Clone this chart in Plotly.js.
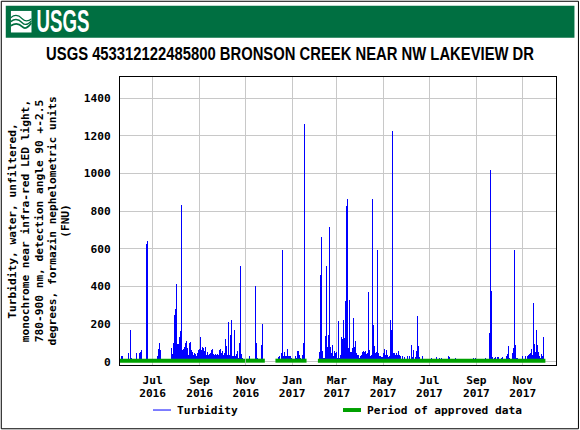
<!DOCTYPE html>
<html><head><meta charset="utf-8">
<script src="https://cdn.plot.ly/plotly-3.0.1.min.js"></script>
<style>html,body{margin:0;padding:0;background:#fff}#c{width:580px;height:430px}
.bars .point path{shape-rendering:crispEdges}</style>
</head><body><div id="c"></div>
<script>
const sampleStart = '2016-05-20T14:00:00Z';
const sampleStepDays = 1.3158;
const turbidity = [
30,30,15,0,0,0,0,45,0,170,
20,0,0,0,0,47,15,0,44,49,
63,0,0,0,0,624,640,0,15,0,
0,0,0,0,0,0,30,67,100,63,
0,0,0,0,0,0,0,0,0,0,
74,42,100,249,280,413,95,95,132,164,
835,63,67,79,100,111,74,37,100,106,
63,53,37,47,42,32,47,63,69,132,
63,79,74,58,79,37,53,37,42,47,
111,63,69,42,37,42,37,42,37,63,
69,47,58,37,47,122,85,37,212,37,
143,222,32,32,169,32,42,58,21,100,
510,42,21,0,0,0,0,0,0,32,
0,0,0,0,0,400,100,20,0,0,
0,90,201,0,0,0,0,0,0,0,
0,0,0,0,0,0,0,0,26,32,
0,47,592,30,50,30,30,69,30,30,
30,20,0,0,0,30,20,58,58,37,
20,0,37,100,1265,0,0,0,0,0,
0,0,0,0,0,0,0,0,0,49,
460,665,58,20,20,138,508,79,143,714,
79,47,90,32,58,47,49,20,217,20,
37,132,122,222,127,322,825,862,74,328,
53,53,74,233,79,111,47,37,37,20,
32,37,53,56,53,56,42,47,370,63,
30,37,862,196,85,47,53,592,47,32,
30,26,26,47,69,37,63,37,26,30,
222,169,1227,47,47,37,47,37,58,37,
30,0,30,0,26,0,0,32,0,32,
0,90,26,63,0,26,56,243,85,26,
0,0,32,0,0,0,0,0,0,0,
0,20,0,0,0,0,26,0,0,20,
0,20,0,0,0,0,0,0,32,26,
0,0,0,0,0,20,0,15,0,0,
0,0,0,0,0,0,0,0,0,0,
0,0,0,20,0,20,0,0,0,0,
0,0,0,0,0,20,0,0,0,153,
1016,376,26,0,20,26,0,26,26,0,
0,20,26,0,0,0,30,42,85,20,
0,0,47,74,592,90,20,20,0,0,
0,0,30,0,0,30,0,30,37,42,
47,69,37,312,95,53,169,90,53,30,
20,42,30,132,0];
const approvedStart = ['2016-05-17','2016-11-01','2016-12-10','2017-02-04'];
const approvedEnd   = ['2016-10-31','2016-11-26','2017-01-20','2017-12-01'];
const approvedLevel = 5;
const tickDates = ['2016-07-01','2016-09-01','2016-11-01','2017-01-01','2017-03-01','2017-05-01','2017-07-01','2017-09-01','2017-11-01'];
const tickLabels = ['Jul<br>2016','Sep<br>2016','Nov<br>2016','Jan<br>2017','Mar<br>2017','May<br>2017','Jul<br>2017','Sep<br>2017','Nov<br>2017'];
const yTicks = [0,200,400,600,800,1000,1200,1400];
const chartTitle = 'USGS 453312122485800 BRONSON CREEK NEAR NW LAKEVIEW DR';
const yTitle = 'Turbidity, water, unfiltered,<br>monochrome near infra-red LED light,<br>780-900 nm, detection angle 90 +-2.5<br>degrees, formazin nephelometric units<br>(FNU)';

const DAY = 86400000;
const t0 = Date.parse(sampleStart);
const xs = turbidity.map((_, i) => new Date(t0 + i * sampleStepDays * DAY).toISOString());
const gx = [], gy = [];
approvedStart.forEach((s, i) => { gx.push(s, approvedEnd[i], null); gy.push(approvedLevel, approvedLevel, null); });

const mono = '"DejaVu Sans Mono", monospace';
const monoFont = {family:mono, size:11.2, weight:700, color:'#000'};
const logo = 'data:image/svg+xml;utf8,' + encodeURIComponent(
 '<svg xmlns="http://www.w3.org/2000/svg" width="22" height="22" viewBox="0 0 22 22"><rect width="22" height="22" fill="#fff"/>' +
 '<g fill="none" stroke="#006F41"><path stroke-width="1.2" d="M0 7C5 3 9 5 12 8S18 11 22 8"/><path stroke-width="1.5" d="M0 11C5 7 9 9 12 12S18 14 22 10"/><path stroke-width="1.8" d="M0 15C5 12 9 13 12 16S18 17 22 12"/></g></svg>');

const traces = [
 {type:'bar', x:xs, y:turbidity, width:sampleStepDays*DAY, marker:{color:'#0000ff', line:{width:0}}, showlegend:false, hoverinfo:'x+y'},
 {type:'scatter', mode:'lines', x:[null], y:[null], name:'Turbidity', line:{color:'#0000ff', width:1}},
 {type:'scatter', mode:'lines', x:gx, y:gy, name:'Period of approved data', line:{color:'#00a000', width:4}, cliponaxis:false, connectgaps:false}
];
const layout = {
 width:580, height:430, autosize:false, paper_bgcolor:'#fff', plot_bgcolor:'#fff',
 margin:{l:119.5, r:23.5, t:76.5, b:64.5, pad:0, autoexpand:false},
 bargap:0,
 font:monoFont,
 title:{text:chartTitle, font:{family:'"Liberation Sans", Arial, sans-serif', size:17.7, weight:700, color:'#000'}, x:0.5, xanchor:'center', y:0.875, yanchor:'middle'},
 xaxis:{type:'date', range:['2016-05-19T00:00:00Z','2017-12-15T00:00:00Z'], tickmode:'array', tickvals:tickDates, ticktext:tickLabels, ticks:'', ticklabelstandoff:5, showgrid:true, gridcolor:'#c8c8c8', gridwidth:1, showline:true, linecolor:'#000', linewidth:1, mirror:true, zeroline:false, tickfont:monoFont},
 yaxis:{range:[-18,1513], tickmode:'array', tickvals:yTicks, ticktext:yTicks.map(String), ticks:'', ticklabelstandoff:6, showgrid:true, gridcolor:'#c8c8c8', gridwidth:1, showline:true, linecolor:'#000', linewidth:1, mirror:true, zeroline:false, tickfont:monoFont, title:{text:yTitle, font:monoFont, standoff:6}},
 legend:{orientation:'h', x:0.039, xanchor:'left', y:-0.106, yanchor:'top', font:monoFont, bgcolor:'rgba(0,0,0,0)', entrywidth:145, entrywidthmode:'pixels', traceorder:'normal'},
 shapes:[
  {type:'rect', xref:'paper', yref:'paper', x0:-119/437, x1:459.5/437, y0:-64/289, y1:(289+76)/289, line:{color:'#000', width:1}, fillcolor:'rgba(0,0,0,0)', layer:'below'},
  {type:'rect', xref:'paper', yref:'paper', x0:-114.5/437, x1:455.5/437, y0:(289+39.5)/289, y1:(289+71.5)/289, line:{width:0}, fillcolor:'#006F41', layer:'below'}
 ],
 images:[{source:logo, xref:'paper', yref:'paper', x:-109.5/437, y:(289+66.5)/289, sizex:21/437, sizey:22/289, sizing:'stretch', xanchor:'left', yanchor:'top', layer:'above'}],
 annotations:[{text:'<b>USGS</b>', xref:'paper', yref:'paper', x:-103/437, y:(289+55.5)/289, xanchor:'left', yanchor:'middle', showarrow:false, font:{family:'"Liberation Sans",sans-serif', size:31, color:'#fff'}}]
};
Plotly.newPlot('c', traces, layout, {displayModeBar:false, staticPlot:true}).then(gd => {
  const squeeze = (el, w) => {
    if (!el) return;
    const b = el.getBBox();
    const s = w / b.width, cx = b.x + b.width / 2;
    const prev = el.getAttribute('transform') || '';
    el.setAttribute('transform', prev + ` translate(${cx} 0) scale(${s} 1) translate(${-cx} 0)`);
  };
  squeeze(gd.querySelector('.gtitle'), 488);
  squeeze(gd.querySelector('.annotation-text'), 53);
  const tighten = (sel, px) => gd.querySelectorAll(sel).forEach(t => {
    const d = t.getAttribute('dy');
    if (d && parseFloat(d) !== 0) t.setAttribute('dy', (parseFloat(d) / 1.3 * px) + 'px');
  });
  tighten('.xtick text tspan.line', 13);
  tighten('.ytitle tspan.line', 13.2);
  gd.querySelectorAll('.legendlines path').forEach(p => p.setAttribute('d', 'M16,0h18'));
  gd.querySelectorAll('.legend .scrollbox, .legend .groups, .legend .traces').forEach(n => {
    n.removeAttribute('clip-path');
    n.style.clipPath = 'none';
  });
});
</script></body></html>
